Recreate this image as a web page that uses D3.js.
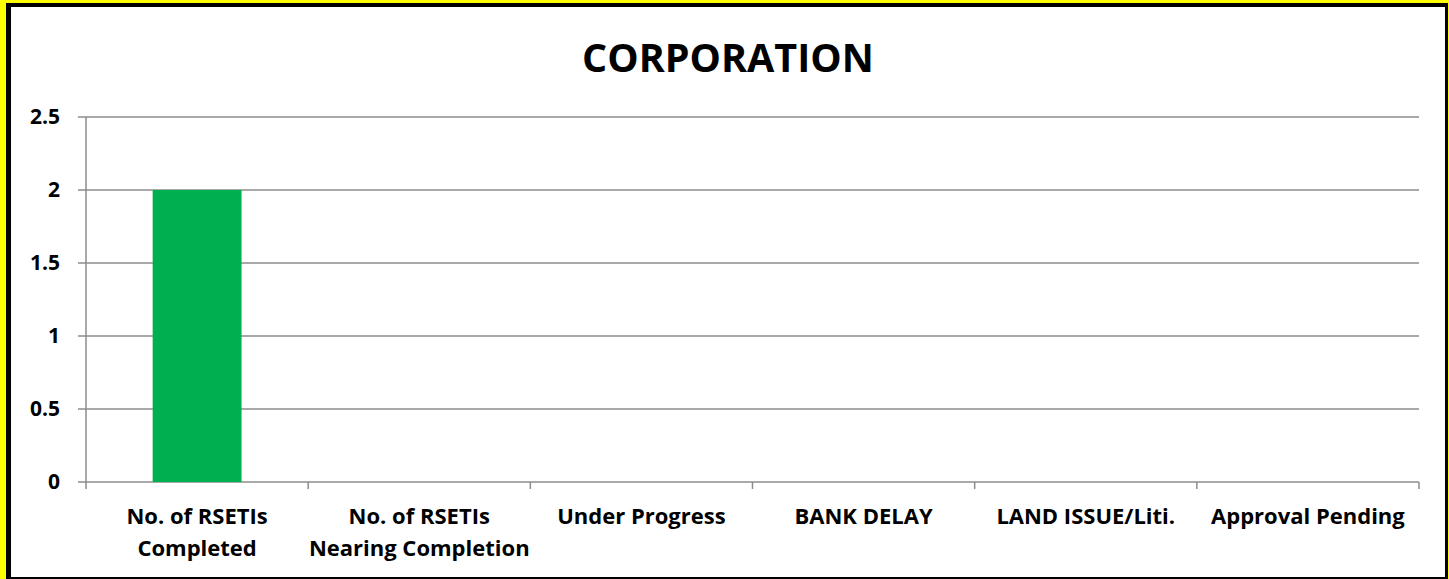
<!DOCTYPE html>
<html>
<head>
<meta charset="utf-8">
<script src="https://cdn.jsdelivr.net/npm/d3@7"></script>
<style>
  html, body { margin: 0; padding: 0; background: #ffff00; }
  svg { display: block; }
</style>
</head>
<body>
<div id="container"></div>
<script>
// chart data
const categories = [
  ["No. of RSETIs", "Completed"],
  ["No. of RSETIs", "Nearing Completion"],
  ["Under Progress"],
  ["BANK DELAY"],
  ["LAND ISSUE/Liti."],
  ["Approval Pending"]
];
const values = [2, 0, 0, 0, 0, 0];
const yTicks = [0, 0.5, 1, 1.5, 2, 2.5];
const title = "CORPORATION";

const width = 1449, height = 579;
const plot = { left: 86, right: 1419, top: 117, bottom: 482 };
const font = "'Open Sans', sans-serif";

const svg = d3
  .select("#container")
  .append("svg")
  .attr("width", width)
  .attr("height", height);

// yellow frame, black border, white panel
svg.append("rect").attr("width", width).attr("height", height).attr("fill", "#ffff00");
svg.append("rect").attr("x", 6).attr("y", 3).attr("width", 1442).attr("height", 576).attr("fill", "#000");
svg.append("rect").attr("x", 11).attr("y", 7).attr("width", 1434).attr("height", 570).attr("fill", "#fff");

// scales
const x = d3
  .scaleBand()
  .domain(d3.range(categories.length))
  .range([plot.left, plot.right])
  .padding(0);

const y = d3
  .scaleLinear()
  .domain([0, 2.5])
  .range([plot.bottom, plot.top]);

// gridlines
svg
  .append("g")
  .selectAll("line")
  .data(yTicks)
  .enter()
  .append("line")
  .attr("x1", plot.left - 8)
  .attr("x2", plot.right)
  .attr("y1", d => y(d))
  .attr("y2", d => y(d))
  .attr("stroke", "#8c8c8c")
  .attr("stroke-width", 1.5);

// y axis line
svg
  .append("line")
  .attr("x1", plot.left)
  .attr("x2", plot.left)
  .attr("y1", plot.top)
  .attr("y2", plot.bottom)
  .attr("stroke", "#8c8c8c")
  .attr("stroke-width", 1.5);

// x ticks at category boundaries
const bounds = d3.range(categories.length + 1).map(i =>
  i < categories.length ? x(i) : plot.right
);
svg
  .append("g")
  .selectAll("line")
  .data(bounds)
  .enter()
  .append("line")
  .attr("x1", d => d)
  .attr("x2", d => d)
  .attr("y1", plot.bottom)
  .attr("y2", plot.bottom + 7)
  .attr("stroke", "#8c8c8c")
  .attr("stroke-width", 1.5);

// bars
const barW = x.bandwidth() * 0.4;
svg
  .append("g")
  .selectAll("rect")
  .data(values)
  .enter()
  .append("rect")
  .attr("x", (d, i) => x(i) + (x.bandwidth() - barW) / 2)
  .attr("y", d => y(d))
  .attr("width", barW)
  .attr("height", d => y(0) - y(d))
  .attr("fill", "#00b050");

// y labels
svg
  .append("g")
  .selectAll("text")
  .data(yTicks)
  .enter()
  .append("text")
  .attr("x", 60)
  .attr("y", d => y(d) + 7)
  .attr("text-anchor", "end")
  .attr("font-family", font)
  .attr("font-weight", "bold")
  .attr("font-size", "21px")
  .text(d => d);

// x labels
const xl = svg
  .append("g")
  .selectAll("text")
  .data(categories)
  .enter()
  .append("text")
  .attr("text-anchor", "middle")
  .attr("font-family", font)
  .attr("font-weight", "bold")
  .attr("font-size", "22px");
xl.each(function(lines, i) {
  const t = d3.select(this);
  lines.forEach((s, j) => {
    t.append("tspan")
      .attr("x", x(i) + x.bandwidth() / 2)
      .attr("y", 524 + j * 32)
      .text(s);
  });
});

// title
svg
  .append("text")
  .attr("x", 728)
  .attr("y", 72)
  .attr("text-anchor", "middle")
  .attr("font-family", font)
  .attr("font-weight", "bold")
  .attr("font-size", "39.5px")
  .text(title);
</script>
</body>
</html>
